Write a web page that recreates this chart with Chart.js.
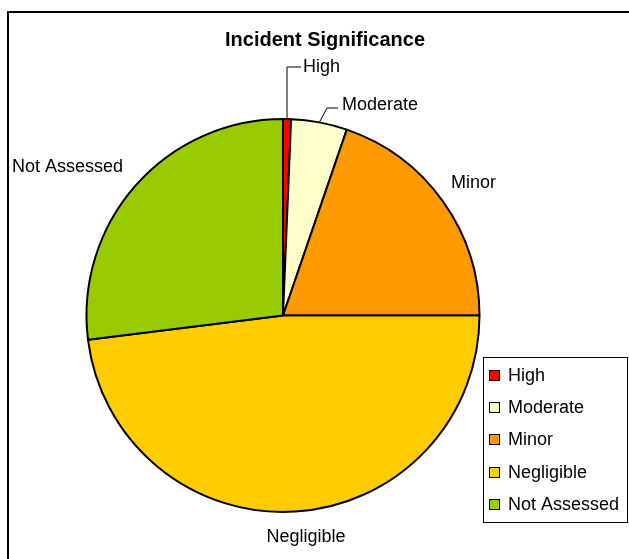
<!DOCTYPE html>
<html>
<head>
<meta charset="utf-8">
<title>Incident Significance</title>
<script src="https://cdn.jsdelivr.net/npm/chart.js@4.4.1/dist/chart.umd.min.js"></script>
<style>
    html, body { margin: 0; padding: 0; background: #fff; }
    #wrap { width: 629px; height: 559px; }
</style>
</head>
<body>
<div id="wrap"><canvas id="incidentChart" width="629" height="559"></canvas></div>
<script>
// Chart data
const chartTitle = 'Incident Significance';
const categories = ['High', 'Moderate', 'Minor', 'Negligible', 'Not Assessed'];
const incidentCounts = [1, 7, 30, 73, 41];
const sliceColors = ['#FF0000', '#FFFFCC', '#FF9900', '#FFCC00', '#99CC00'];

document.addEventListener('DOMContentLoaded', function() {
    const FONT = '"Liberation Sans", Arial, sans-serif';

    // where each outside label sits (text anchor), leader lines start at the slice edge
    const labelPlacement = {
        'High':         { x: 303, y: 67,  align: 'left', leader: [[287, 67], [301, 67]] },
        'Moderate':     { x: 342, y: 105, align: 'left', leader: [[327, 108], [338, 108]] },
        'Minor':        { x: 451, y: 183, align: 'left' },
        'Negligible':   { x: 306, y: 537, align: 'center' },
        'Not Assessed': { x: 12,  y: 167, align: 'left' }
    };

    const decorPlugin = {
        id: 'decor',
        beforeDraw(chart) {
            const ctx = chart.ctx;
            ctx.save();
            ctx.fillStyle = '#fff';
            ctx.fillRect(0, 0, chart.width, chart.height);
            // chart frame (only top and left visible)
            ctx.strokeStyle = '#000';
            ctx.lineWidth = 2;
            ctx.beginPath();
            ctx.moveTo(8, chart.height);
            ctx.lineTo(8, 12);
            ctx.lineTo(chart.width, 12);
            ctx.stroke();
            ctx.restore();
        },
        afterDraw(chart) {
            const ctx = chart.ctx;
            const meta = chart.getDatasetMeta(0);
            ctx.save();

            // title
            ctx.fillStyle = '#000';
            ctx.font = 'bold 20px ' + FONT;
            ctx.textAlign = 'center';
            ctx.textBaseline = 'alphabetic';
            ctx.fillText(chartTitle, 325, 46);

            // slice labels
            ctx.font = '18px ' + FONT;
            ctx.textBaseline = 'middle';
            meta.data.forEach((arc, i) => {
                const name = chart.data.labels[i];
                const p = labelPlacement[name];
                if (!p) return;
                if (p.leader) {
                    const mid = (arc.startAngle + arc.endAngle) / 2;
                    const ex = arc.x + Math.cos(mid) * arc.outerRadius;
                    const ey = arc.y + Math.sin(mid) * arc.outerRadius;
                    ctx.strokeStyle = '#000';
                    ctx.lineWidth = 1;
                    ctx.beginPath();
                    ctx.moveTo(ex, ey);
                    if (name === 'High') ctx.lineTo(p.leader[0][0], ey);
                    p.leader.forEach(pt => ctx.lineTo(pt[0], pt[1]));
                    ctx.stroke();
                }
                ctx.textAlign = p.align;
                ctx.fillText(name, p.x, p.y);
            });

            // legend box
            const box = { left: 483, top: 357, right: 627, bottom: 522 };
            ctx.strokeStyle = '#000';
            ctx.lineWidth = 1;
            ctx.strokeRect(box.left + 0.5, box.top + 0.5, box.right - box.left, box.bottom - box.top);
            const rowY = [375, 407, 439, 472, 504];
            ctx.textAlign = 'left';
            chart.data.labels.forEach((name, i) => {
                const y = rowY[i];
                ctx.fillStyle = chart.data.datasets[0].backgroundColor[i];
                ctx.fillRect(489, y - 5, 10, 10);
                ctx.strokeRect(489.5, y - 4.5, 10, 10);
                ctx.fillStyle = '#000';
                ctx.fillText(name, 508, y + 1);
            });
            ctx.restore();
        }
    };

    const ctx = document.getElementById('incidentChart');
    new Chart(ctx, {
        type: 'pie',
        data: {
            labels: categories,
            datasets: [{
                data: incidentCounts,
                backgroundColor: sliceColors,
                borderColor: '#000',
                borderWidth: 2
            }]
        },
        options: {
            responsive: false,
            animation: false,
            layout: {
                padding: { left: 85, right: 148, top: 118, bottom: 46 }
            },
            plugins: {
                legend: { display: false },
                title: { display: false },
                tooltip: { enabled: false }
            }
        },
        plugins: [decorPlugin]
    });
});
</script>
</body>
</html>
